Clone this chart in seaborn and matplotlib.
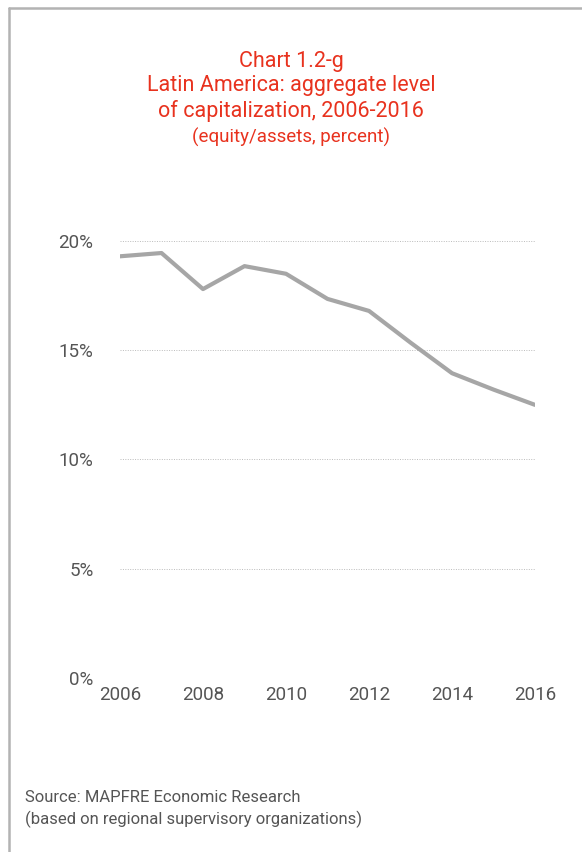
import numpy as np
import pandas as pd
import seaborn as sns
import matplotlib.pyplot as plt
from matplotlib.lines import Line2D

# Data
years = [2006, 2007, 2008, 2009, 2010, 2011, 2012, 2013, 2014, 2015, 2016]
capitalization = [19.3, 19.45, 17.8, 18.85, 18.5, 17.35, 16.8, 15.35, 13.95, 13.2, 12.5]
y_ticks = [0, 5, 10, 15, 20]
x_ticks = [2006, 2008, 2010, 2012, 2014, 2016]

title_lines = "Chart 1.2-g\nLatin America: aggregate level\nof capitalization, 2006-2016"
subtitle = "(equity/assets, percent)"
source = "Source: MAPFRE Economic Research\n(based on regional supervisory organizations)"

sns.set_style("white")
plt.rcParams['font.family'] = ['Roboto', 'DejaVu Sans']

red = "#e8321e"
grey_text = "#555555"

df = pd.DataFrame({"year": years, "value": capitalization})

fig = plt.figure(figsize=(5.82, 8.52), dpi=100)
ax = fig.add_axes([120 / 582, 1 - 678 / 852, 415 / 582, 437 / 852])

sns.lineplot(data=df, x="year", y="value", ax=ax, color="#a6a6a6", linewidth=3)

ax.set_xlim(2006, 2016)
ax.set_ylim(0, 20)
ax.set_yticks(y_ticks)
ax.set_yticklabels([f"{t}%" for t in y_ticks])
ax.set_xticks(x_ticks)
ax.set_xticklabels([str(t) for t in x_ticks])
ax.tick_params(axis="both", length=0, labelsize=13.5, labelcolor=grey_text)
ax.tick_params(axis="y", pad=19)
ax.tick_params(axis="x", pad=6)
ax.set_xlabel("")
ax.set_ylabel("")
ax.yaxis.grid(True, linestyle=(0, (1, 1.5)), color="#bbbbbb", linewidth=0.7)
ax.xaxis.grid(False)
sns.despine(ax=ax, left=True, bottom=True)

# titles
fig.text(0.5, 1 - 51 / 852, title_lines, ha="center", va="top", color=red,
         fontsize=15.5, linespacing=1.2)
fig.text(0.5, 1 - 128 / 852, subtitle, ha="center", va="top", color=red, fontsize=13.5)

# source
fig.text(25 / 582, 1 - 790 / 852, source, ha="left", va="top", color=grey_text,
         fontsize=12, linespacing=1.45)

# frame lines (top and left)
fig.add_artist(Line2D([9 / 582, 1], [1 - 8 / 852, 1 - 8 / 852], color="#b3b3b3",
                      linewidth=1.8, transform=fig.transFigure))
fig.add_artist(Line2D([9 / 582, 9 / 582], [0, 1 - 8 / 852], color="#b3b3b3",
                      linewidth=1.8, transform=fig.transFigure))

fig.savefig("out.png", dpi=100)
